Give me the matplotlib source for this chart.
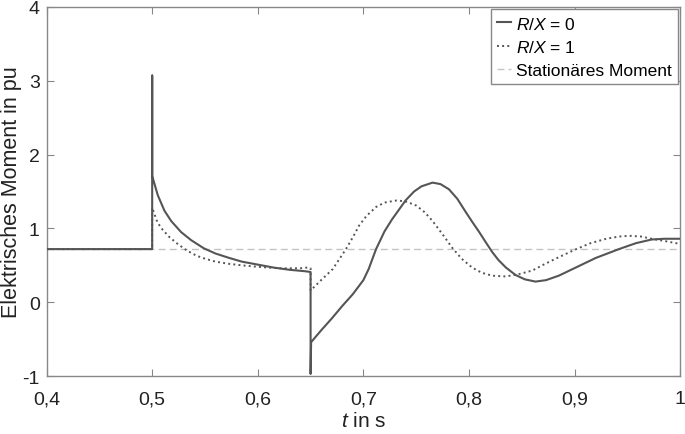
import matplotlib
matplotlib.use("Agg")
import matplotlib.pyplot as plt

plt.rcParams['font.family'] = ['Liberation Sans', 'DejaVu Sans']
plt.rcParams['mathtext.fontset'] = 'custom'
plt.rcParams['mathtext.it'] = 'Liberation Sans:italic'
plt.rcParams['mathtext.rm'] = 'Liberation Sans'

# R/X = 0 (solid)
t_rx0 = [0.4, 0.5, 0.5, 0.5, 0.5053, 0.5116, 0.518, 0.5274, 0.537, 0.549, 0.56, 0.573, 0.585,
         0.6, 0.615, 0.63, 0.645, 0.65,
         0.65, 0.6505, 0.66, 0.67, 0.68, 0.69, 0.70, 0.705, 0.712, 0.72, 0.727, 0.734, 0.740, 0.748,
         0.755, 0.7655, 0.773, 0.781, 0.789, 0.797, 0.803, 0.8097, 0.816, 0.822, 0.828, 0.835,
         0.844, 0.853, 0.863, 0.873, 0.885, 0.904, 0.92, 0.942, 0.958, 0.973, 0.985, 1.0]
m_rx0 = [0.72, 0.72, 3.07, 1.71, 1.45, 1.24, 1.10, 0.95, 0.84, 0.73, 0.66, 0.60, 0.55,
         0.51, 0.47, 0.44, 0.42, 0.41,
         -0.97, -0.54, -0.38, -0.22, -0.05, 0.11, 0.30, 0.45, 0.72, 0.96, 1.12, 1.26, 1.38, 1.50,
         1.57, 1.62, 1.60, 1.53, 1.40, 1.22, 1.09, 0.95, 0.81, 0.68, 0.57, 0.47,
         0.37, 0.31, 0.28, 0.30, 0.36, 0.49, 0.60, 0.72, 0.80, 0.85, 0.86, 0.86]

# R/X = 1 (dotted)
t_rx1 = [0.4, 0.5, 0.5, 0.505, 0.51, 0.5165, 0.525, 0.533, 0.542, 0.55, 0.56, 0.573, 0.585,
         0.6, 0.62, 0.64, 0.647, 0.65,
         0.65, 0.66, 0.671, 0.6835, 0.69, 0.696, 0.703, 0.712, 0.72, 0.732, 0.741, 0.750, 0.758,
         0.7655, 0.775, 0.784, 0.793, 0.803, 0.812, 0.822, 0.835, 0.847, 0.860, 0.872, 0.885,
         0.90, 0.915, 0.93, 0.942, 0.952, 0.963, 0.973, 0.985, 1.0]
m_rx1 = [0.72, 0.72, 1.28, 1.08, 0.98, 0.88, 0.78, 0.70, 0.63, 0.59, 0.55, 0.52, 0.50,
         0.48, 0.46, 0.46, 0.47, 0.46,
         0.16, 0.30, 0.45, 0.72, 0.88, 1.04, 1.17, 1.29, 1.35, 1.38, 1.36, 1.31, 1.22,
         1.10, 0.92, 0.74, 0.59, 0.47, 0.40, 0.36, 0.35, 0.38, 0.43, 0.52, 0.61,
         0.71, 0.80, 0.86, 0.89, 0.90, 0.89, 0.86, 0.83, 0.79]

m_stat = 0.72

x_ticks = [0.4, 0.5, 0.6, 0.7, 0.8, 0.9, 1.0]
x_labels = ['0,4', '0,5', '0,6', '0,7', '0,8', '0,9', '1']
y_ticks = [-1, 0, 1, 2, 3, 4]
y_labels = ['-1', '0', '1', '2', '3', '4']

fig = plt.figure(figsize=(6.85, 4.35), dpi=100)
ax = fig.add_axes([0.068, 0.133, 0.925, 0.849])

ax.plot(t_rx0, m_rx0, color='#555555', lw=1.5, label='$R/X$ = 0', zorder=3)
ax.plot(t_rx1, m_rx1, color='#555555', lw=1.4, ls=':', label='$R/X$ = 1', zorder=2)
ax.axhline(m_stat, color='#c4c4c4', lw=1.0, ls=(0, (5, 3)), label='Stationäres Moment', zorder=1)

ax.set_xlim(0.4, 1.0)
ax.set_ylim(-1, 4)
ax.set_xticks(x_ticks)
ax.set_xticklabels(x_labels)
ax.set_yticks(y_ticks)
ax.set_yticklabels(y_labels)
ax.tick_params(direction='in', top=True, right=True, labelsize=14, labelcolor='#222222',
               color='#888888', length=5, width=0.8)
ax.tick_params(axis='x', pad=10)
ax.tick_params(axis='y', pad=5)
for s in ax.spines.values():
    s.set_color('#888888')
    s.set_linewidth(1.0)

ax.set_xlabel('$t$ in s', fontsize=15, labelpad=3, color='#222222')
ax.set_ylabel('Elektrisches Moment in pu', fontsize=15.5, color='#222222')
ax.yaxis.set_label_coords(-0.039, 0.5)

leg = ax.legend(loc='upper right', fontsize=12.5, handlelength=0.8, handletextpad=0.3,
                borderaxespad=0.15, borderpad=0.35, labelspacing=0.45, fancybox=False,
                framealpha=1)
leg.get_frame().set_edgecolor('#888888')
leg.get_frame().set_linewidth(1.0)

fig.savefig('out.png', dpi=100)
